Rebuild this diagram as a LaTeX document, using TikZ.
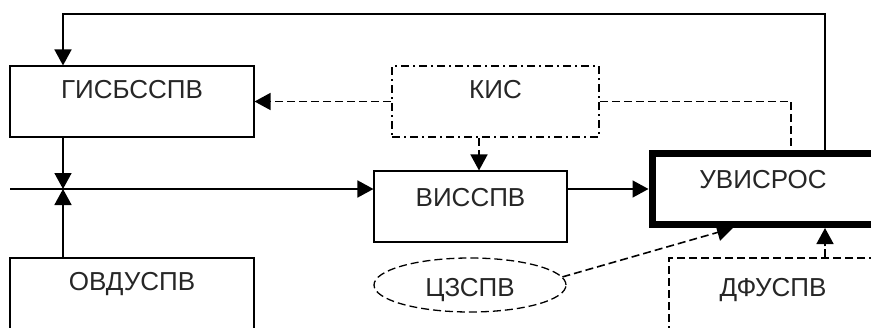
\documentclass[tikz,border=0pt]{standalone}
\usepackage{fontspec}
\setmainfont{Liberation Sans}
\usetikzlibrary{arrows.meta,shapes.geometric}

\tikzstyle{box}=[draw, line width=1.1pt, rectangle, inner sep=0pt, minimum width=244pt, text height=32pt, text depth=39pt, text=black!85]
\tikzstyle{oval}=[draw, line width=1.3pt, ellipse, inner sep=0pt, minimum width=192pt, minimum height=54pt, text height=23pt, text depth=0pt, text=black!85, dash pattern=on 8pt off 4pt]
\tikzstyle{arr}=[line width=1.7pt, -{Triangle[length=16pt,width=17pt]}]
\tikzstyle{darr}=[arr, line width=1.6pt, dash pattern=on 8pt off 4pt]
\tikzstyle{dline}=[line width=1.6pt, dash pattern=on 8pt off 4pt]
\tikzstyle{ddarr}=[arr, line width=1.6pt, dash pattern=on 8pt off 3pt on 2pt off 3pt]

\begin{document}
\begin{tikzpicture}[x=1pt, y=-1pt, font=\fontsize{26}{31}\selectfont]
\useasboundingbox (0,0) rectangle (871,327);
\clip (0,0) rectangle (871,327);

% blocks
\node[box] (gis) at (132,101.5) {ГИСБССПВ};
\node[box, line width=1.6pt, minimum width=207pt, dash pattern=on 8pt off 4pt on 2pt off 4pt] (kis) at (495.5,101.5) {КИС};
\node[box, minimum width=193pt, text height=35pt, text depth=36pt] (vis) at (470.5,206.5) {ВИССПВ};
\node[box, line width=7pt, minimum width=222pt, text height=34.5pt, text depth=36.5pt] (uvis) at (763,189) {УВИСРОС};
\node[box, text depth=48pt] (ovd) at (132,298) {ОВДУСПВ};
\node[box, line width=1.5pt, minimum width=208pt, text height=38pt, text depth=42pt, dash pattern=on 8pt off 4pt] (dfu) at (773,298) {ДФУСПВ};
\node[oval] (cz) at (470,285) {ЦЗСПВ};

\coordinate (in) at (10,189);
\coordinate (j) at (63,189);
\coordinate (top) at (63,14);
\coordinate (fb) at ([xshift=62pt]uvis.north);
\coordinate (kv) at ([xshift=8.5pt]vis.north);

% solid links
\draw[arr] (fb) |- (top) -- (gis.north -| top);
\draw[arr] (gis.south -| j) -- (j);
\draw[arr] (ovd.north -| j) -- (j);
\draw[arr] (in) -- (in -| vis.west);
\draw[arr] (vis.east |- in) -- (uvis.west |- in);

% dashed links
\draw[darr] (kis.west) -- (gis.east);
\draw[darr] (kis.south -| kv) -- (kv);
\draw[dline] (kis.east) -| ([xshift=28pt]uvis.north);
\draw[darr] (cz.5) -- ([xshift=-30pt]uvis.south);
\draw[ddarr] (dfu.north -| fb) -- (uvis.south -| fb);

\end{tikzpicture}
\end{document}
